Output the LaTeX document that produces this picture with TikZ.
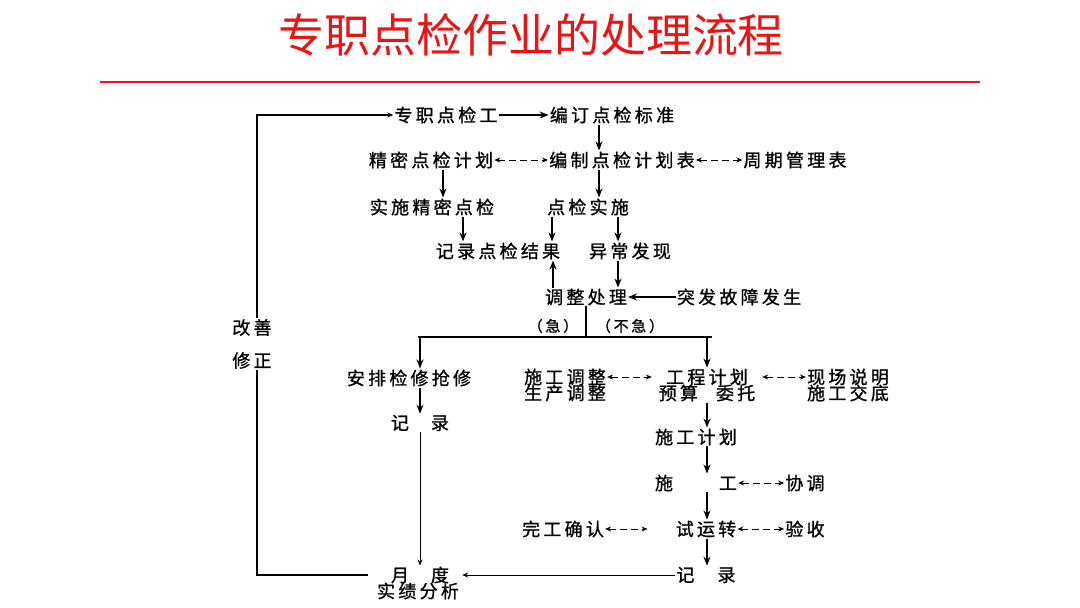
\documentclass[tikz,border=0pt]{standalone}
\usepackage{fontspec}
\setmainfont{Noto Sans CJK SC}[LetterSpace=18, FakeBold=1]
\newfontfamily\titlefont{Noto Sans CJK SC}
\usepackage{xcolor}
\usetikzlibrary{arrows.meta}
\definecolor{TitleRed}{RGB}{235,20,20}

\begin{document}
\begin{tikzpicture}[x=1pt, y=-1pt,
          txt/.style={inner sep=1pt, font=\fontsize{18}{19}\selectfont},
          paren/.style={inner sep=1pt, font=\fontsize{15}{16}\selectfont},
          arr/.style={-{Stealth[length=9pt,width=7pt]}, line width=1.4pt},
          thinarr/.style={-{Stealth[length=6pt,width=5pt]}, line width=0.9pt},
          darr/.style={{Stealth[length=6pt,width=5pt]}-{Stealth[length=6pt,width=5pt]},
                       line width=1pt, dash pattern=on 7pt off 4pt},
          lin/.style={line width=1.3pt}
        ]
        \useasboundingbox (0,0) rectangle (1080,608);
        \node[font=\titlefont\fontsize{46}{50}\selectfont, text=TitleRed]
              (title) at (531,35) {专职点检作业的处理流程};
        \coordinate (ruleL) at (100,82);
        \coordinate (ruleR) at (980,82);
        \draw[TitleRed, line width=2pt] (ruleL) -- (ruleR);

        \node[txt] (worker)    at (446,115) {专职点检工};
        \node[txt] (standard)  at (612,115) {编订点检标准};
        \node[txt] (precplan)  at (431,160) {精密点检计划};
        \node[txt] (schedule)  at (622,160) {编制点检计划表};
        \node[txt] (cycle)     at (795,160) {周期管理表};
        \node[txt] (precexec)  at (432,207) {实施精密点检};
        \node[txt] (exec)      at (588,207) {点检实施};
        \node[txt] (result)    at (498,251) {记录点检结果};
        \node[txt] (abnormal)  at (630,251) {异常发现};
        \node[txt] (adjust)    at (586,297) {调整处理};
        \node[txt] (fault)     at (739,297) {突发故障发生};
        \node[paren] (urgent)  at (553,326) {（急）};
        \node[paren] (normal)  at (630,326) {（不急）};
        \node[txt] (repair)    at (409,378) {安排检修抢修};
        \node[txt] (record1)   at (420,423) {记\hspace{22pt}录};
        \node[txt] (coordadj)  at (565,377) {施工调整};
        \node[txt] (prodadj)   at (565,393) {生产调整};
        \node[txt, minimum width=110pt]
              (project)        at (707,377) {工程计划};
        \node[txt] (budget)    at (707,393) {预算\hspace{18pt}委托};
        \node[txt] (site)      at (848,377) {现场说明};
        \node[txt] (brief)     at (848,393) {施工交底};
        \node[txt] (conplan)   at (696,437) {施工计划};
        \node[txt] (construct) at (696,483) {施\hspace{46pt}工};
        \node[txt] (coop)      at (805,483) {协调};
        \node[txt] (finish)    at (563,529) {完工确认};
        \node[txt] (trial)     at (706,529) {试运转};
        \node[txt] (accept)    at (805,529) {验收};
        \node[txt] (record2)   at (706,575) {记\hspace{23pt}录};
        \node[txt] (month)     at (420,575) {月\hspace{22pt}度};
        \node[txt] (analysis)  at (418,591) {实绩分析};

        \draw[arr]  (worker) -- (standard);
        \draw[arr]  ([xshift=-13pt]standard.south) -- ([xshift=-23pt]schedule.north);
        \draw[darr] (precplan) -- (schedule);
        \draw[darr] (schedule) -- (cycle);
        \draw[arr]  ([xshift=12pt]precplan.south) -- ([xshift=11pt]precexec.north);
        \draw[arr]  ([xshift=-23pt]schedule.south) -- ([xshift=11pt]exec.north);
        \draw[arr]  ([xshift=31pt]precexec.south) -- ([xshift=-35pt]result.north);
        \draw[arr]  ([xshift=-36pt]exec.south) -- ([xshift=54pt]result.north);
        \draw[arr]  ([xshift=30pt]exec.south) -- ([xshift=-12pt]abnormal.north);
        \draw[arr]  ([xshift=-12pt]abnormal.south) -- ([xshift=32pt]adjust.north);
        \draw[arr]  ([xshift=-33pt]adjust.north) -- ([xshift=55pt]result.south);
        \draw[arr]  (fault) -- (adjust);

        \coordinate (barL) at (418,337);
        \coordinate (barR) at (712,337);
        \draw[lin]  (adjust.south) -- (adjust.south |- barL);
        \draw[lin]  (barL) -- (barR);
        \draw[arr]  ([xshift=2pt]barL) -- ([xshift=11pt]repair.north);
        \draw[arr]  ([xshift=-5pt]barR) -- (project.north);

        \draw[darr] (coordadj) -- (project);
        \draw[darr] (project) -- (site);
        \draw[arr]  (budget.south) -- ([xshift=11pt]conplan.north);
        \draw[arr]  ([xshift=11pt]conplan.south) -- ([xshift=11pt]construct.north);
        \draw[darr] (construct) -- (coop);
        \draw[arr]  ([xshift=11pt]construct.south) -- ([xshift=1pt]trial.north);
        \draw[darr, shorten >=27pt] (finish) -- (trial);
        \draw[darr] (trial) -- (accept);
        \draw[arr]  ([xshift=1pt]trial.south) -- ([xshift=1pt]record2.north);
        \draw[thinarr, shorten >=12pt] (record2) -- (month);

        \draw[arr]  ([xshift=11pt]repair.south) -- (record1.north);
        \draw[thinarr] (record1) -- (month);

        \coordinate (loop) at (257,340);
        \draw[lin, -{Stealth[length=6pt,width=5pt]}, shorten <=22pt]
              (month.west) -| (loop) |- (worker.west);
        \node[txt, fill=white, align=center, font=\fontsize{18}{33}\selectfont]
              (improve) at (252,344) {改善\\修正};
      \end{tikzpicture}
\end{document}
